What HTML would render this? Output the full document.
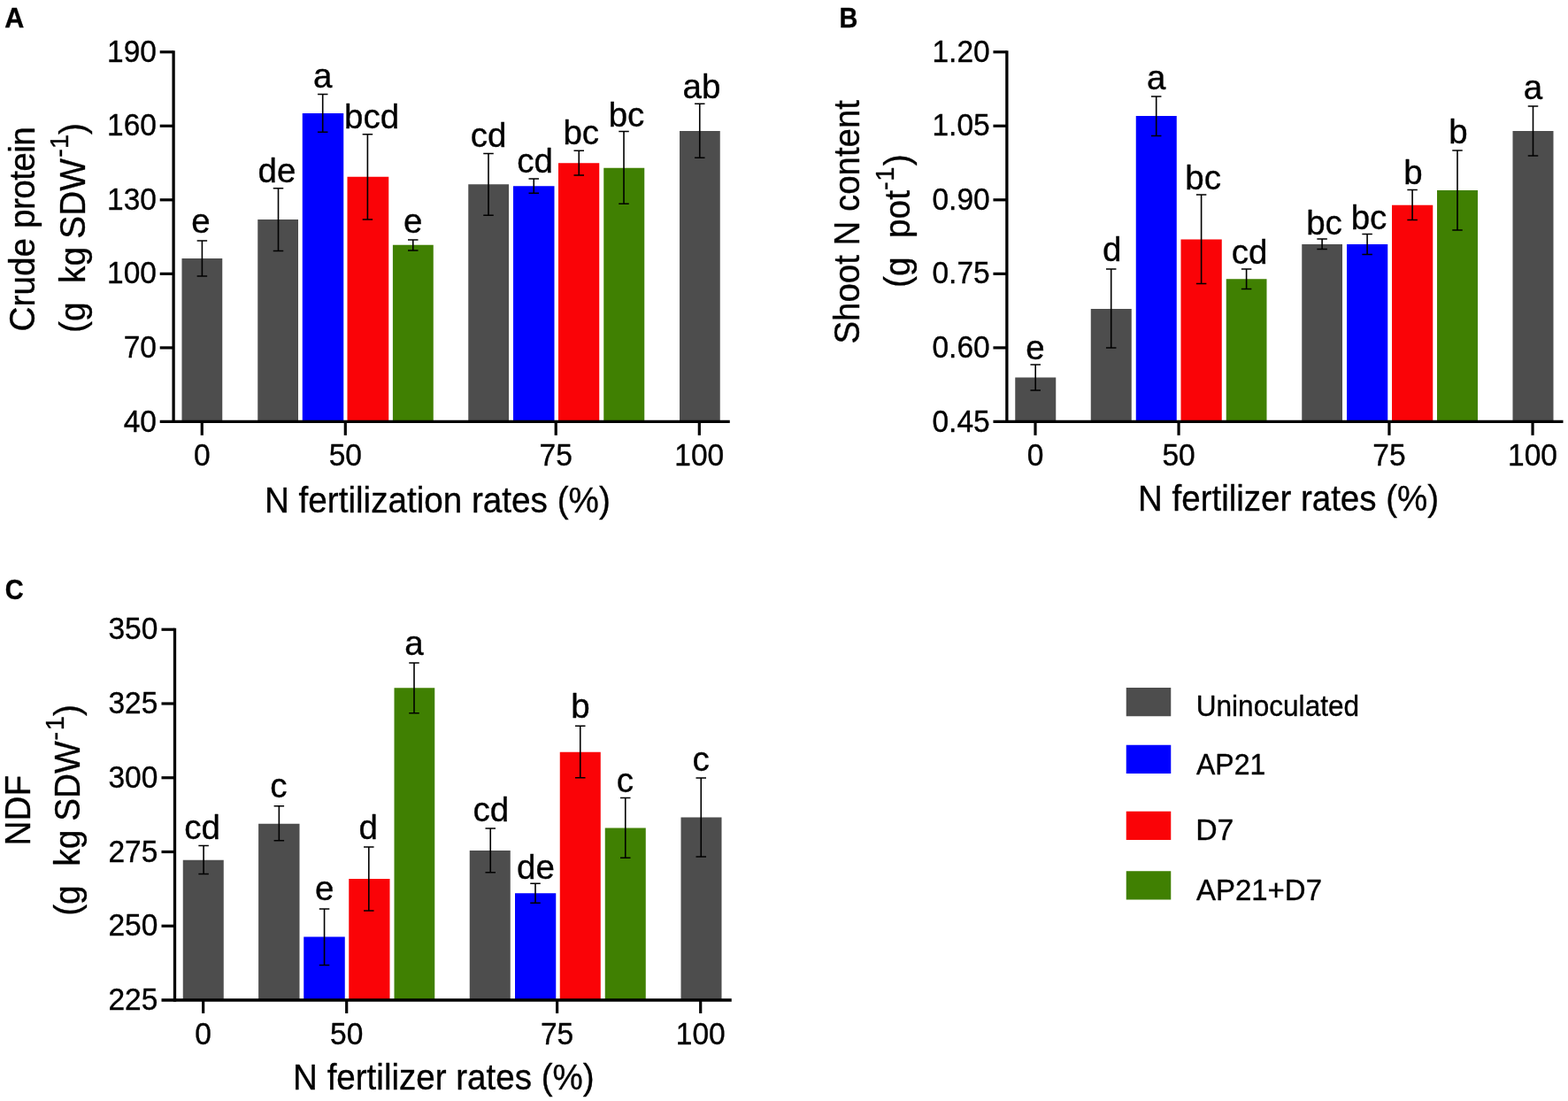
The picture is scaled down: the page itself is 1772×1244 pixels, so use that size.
<!DOCTYPE html>
<html lang="en">
<head>
<meta charset="utf-8">
<title>Figure: crude protein, shoot N content and NDF under N fertilizer rates</title>
<style>
html,body{margin:0;padding:0;background:#fff;}
body{width:1772px;height:1244px;overflow:hidden;}
svg{display:block;}
svg text{font-family:"Liberation Sans", Arial, Helvetica, sans-serif;fill:#000;font-kerning:none;stroke:#000;stroke-width:0.35px;stroke-linejoin:round;}
</style>
</head>
<body>
<svg width="1772" height="1244" viewBox="0 0 1772 1244">
<rect width="1772" height="1244" fill="#fff"/>
<g>
<rect x="205.50" y="292.00" width="45.75" height="184.45" fill="#4d4d4d"/>
<rect x="291.25" y="248.00" width="45.75" height="228.45" fill="#4d4d4d"/>
<rect x="341.75" y="128.00" width="46.50" height="348.45" fill="#0000ff"/>
<rect x="392.50" y="199.75" width="46.75" height="276.70" fill="#fa0307"/>
<rect x="443.90" y="276.75" width="45.85" height="199.70" fill="#408002"/>
<rect x="529.25" y="208.25" width="45.75" height="268.20" fill="#4d4d4d"/>
<rect x="580.00" y="210.25" width="46.50" height="266.20" fill="#0000ff"/>
<rect x="631.00" y="184.25" width="46.25" height="292.20" fill="#fa0307"/>
<rect x="682.25" y="189.75" width="46.00" height="286.70" fill="#408002"/>
<rect x="768.00" y="148.00" width="45.75" height="328.45" fill="#4d4d4d"/>
<path d="M228.40 272.00V312.00M222.65 272.00H234.15M222.65 312.00H234.15" stroke="#000" stroke-width="1.6" fill="none"/>
<path d="M314.50 212.75V283.50M308.75 212.75H320.25M308.75 283.50H320.25" stroke="#000" stroke-width="1.6" fill="none"/>
<path d="M364.70 106.50V149.25M358.95 106.50H370.45M358.95 149.25H370.45" stroke="#000" stroke-width="1.6" fill="none"/>
<path d="M415.40 151.75V248.00M409.65 151.75H421.15M409.65 248.00H421.15" stroke="#000" stroke-width="1.6" fill="none"/>
<path d="M466.75 271.00V283.00M461.00 271.00H472.50M461.00 283.00H472.50" stroke="#000" stroke-width="1.6" fill="none"/>
<path d="M552.00 173.50V243.25M546.25 173.50H557.75M546.25 243.25H557.75" stroke="#000" stroke-width="1.6" fill="none"/>
<path d="M603.25 202.00V218.25M597.50 202.00H609.00M597.50 218.25H609.00" stroke="#000" stroke-width="1.6" fill="none"/>
<path d="M654.25 170.25V198.00M648.50 170.25H660.00M648.50 198.00H660.00" stroke="#000" stroke-width="1.6" fill="none"/>
<path d="M705.00 148.50V230.25M699.25 148.50H710.75M699.25 230.25H710.75" stroke="#000" stroke-width="1.6" fill="none"/>
<path d="M790.75 117.25V178.25M785.00 117.25H796.50M785.00 178.25H796.50" stroke="#000" stroke-width="1.6" fill="none"/>
<path d="M196.10 57.15V478.10" stroke="#000" stroke-width="3.3" fill="none"/>
<path d="M180.70 476.45H824.75" stroke="#000" stroke-width="3.3" fill="none"/>
<path d="M180.70 58.75H196.10" stroke="#000" stroke-width="3.2" fill="none"/>
<text transform="translate(176.90 69.85) scale(1 1.06)" font-size="33.5" text-anchor="end">190</text>
<path d="M180.70 142.29H196.10" stroke="#000" stroke-width="3.2" fill="none"/>
<text transform="translate(176.90 153.39) scale(1 1.06)" font-size="33.5" text-anchor="end">160</text>
<path d="M180.70 225.83H196.10" stroke="#000" stroke-width="3.2" fill="none"/>
<text transform="translate(176.90 236.93) scale(1 1.06)" font-size="33.5" text-anchor="end">130</text>
<path d="M180.70 309.37H196.10" stroke="#000" stroke-width="3.2" fill="none"/>
<text transform="translate(176.90 320.47) scale(1 1.06)" font-size="33.5" text-anchor="end">100</text>
<path d="M180.70 392.91H196.10" stroke="#000" stroke-width="3.2" fill="none"/>
<text transform="translate(176.90 404.01) scale(1 1.06)" font-size="33.5" text-anchor="end">70</text>
<text transform="translate(176.90 487.55) scale(1 1.06)" font-size="33.5" text-anchor="end">40</text>
<path d="M228.25 476.45V491.85" stroke="#000" stroke-width="3.2" fill="none"/>
<text transform="translate(228.25 526.05) scale(1 1.06)" font-size="33.5" text-anchor="middle">0</text>
<path d="M390.30 476.45V491.85" stroke="#000" stroke-width="3.2" fill="none"/>
<text transform="translate(390.30 526.05) scale(1 1.06)" font-size="33.5" text-anchor="middle">50</text>
<path d="M628.20 476.45V491.85" stroke="#000" stroke-width="3.2" fill="none"/>
<text transform="translate(628.20 526.05) scale(1 1.06)" font-size="33.5" text-anchor="middle">75</text>
<path d="M790.30 476.45V491.85" stroke="#000" stroke-width="3.2" fill="none"/>
<text transform="translate(790.30 526.05) scale(1 1.06)" font-size="33.5" text-anchor="middle">100</text>
<text transform="translate(227.00 263.00)" font-size="38.5" text-anchor="middle">e</text>
<text transform="translate(313.00 205.50)" font-size="38.5" text-anchor="middle">de</text>
<text transform="translate(364.75 99.20)" font-size="38.5" text-anchor="middle">a</text>
<text transform="translate(420.00 144.50)" font-size="38.5" text-anchor="middle">bcd</text>
<text transform="translate(466.75 263.00)" font-size="38.5" text-anchor="middle">e</text>
<text transform="translate(552.00 165.75)" font-size="38.5" text-anchor="middle">cd</text>
<text transform="translate(604.50 194.50)" font-size="38.5" text-anchor="middle">cd</text>
<text transform="translate(656.75 162.75)" font-size="38.5" text-anchor="middle">bc</text>
<text transform="translate(708.00 143.25)" font-size="38.5" text-anchor="middle">bc</text>
<text transform="translate(793.00 110.60)" font-size="38.5" text-anchor="middle">ab</text>
<text transform="translate(298.90 578.90) scale(1 1.035)" font-size="38.65">N fertilization rates (%)</text>
<text transform="translate(39.20 374.50) rotate(-90) scale(1 1.035)" font-size="38.8" xml:space="preserve" style="white-space:pre">Crude <tspan letter-spacing="-0.6">protein</tspan></text>
<text transform="translate(95.90 376.00) rotate(-90) scale(1 1.035)" font-size="38.8" xml:space="preserve" style="white-space:pre">(g  kg <tspan dx="-1.4">SDW</tspan><tspan font-size="29" dy="-17.8" dx="1.4">-</tspan><tspan font-size="29" dx="0">1</tspan><tspan dy="17.8" dx="0">)</tspan></text>
</g>
<g>
<rect x="1147.25" y="426.50" width="46.00" height="49.95" fill="#4d4d4d"/>
<rect x="1232.75" y="349.00" width="46.00" height="127.45" fill="#4d4d4d"/>
<rect x="1283.75" y="131.00" width="46.00" height="345.45" fill="#0000ff"/>
<rect x="1334.50" y="270.50" width="46.25" height="205.95" fill="#fa0307"/>
<rect x="1385.75" y="315.25" width="45.75" height="161.20" fill="#408002"/>
<rect x="1471.25" y="276.00" width="45.75" height="200.45" fill="#4d4d4d"/>
<rect x="1522.00" y="276.00" width="46.25" height="200.45" fill="#0000ff"/>
<rect x="1573.00" y="231.75" width="46.25" height="244.70" fill="#fa0307"/>
<rect x="1624.00" y="215.00" width="46.00" height="261.45" fill="#408002"/>
<rect x="1709.50" y="148.00" width="46.00" height="328.45" fill="#4d4d4d"/>
<path d="M1170.20 412.00V441.00M1164.45 412.00H1175.95M1164.45 441.00H1175.95" stroke="#000" stroke-width="1.6" fill="none"/>
<path d="M1255.70 304.00V393.00M1249.95 304.00H1261.45M1249.95 393.00H1261.45" stroke="#000" stroke-width="1.6" fill="none"/>
<path d="M1306.70 109.00V153.50M1300.95 109.00H1312.45M1300.95 153.50H1312.45" stroke="#000" stroke-width="1.6" fill="none"/>
<path d="M1357.60 220.00V320.50M1351.85 220.00H1363.35M1351.85 320.50H1363.35" stroke="#000" stroke-width="1.6" fill="none"/>
<path d="M1408.60 304.00V326.50M1402.85 304.00H1414.35M1402.85 326.50H1414.35" stroke="#000" stroke-width="1.6" fill="none"/>
<path d="M1494.10 270.00V281.50M1488.35 270.00H1499.85M1488.35 281.50H1499.85" stroke="#000" stroke-width="1.6" fill="none"/>
<path d="M1545.10 264.50V287.50M1539.35 264.50H1550.85M1539.35 287.50H1550.85" stroke="#000" stroke-width="1.6" fill="none"/>
<path d="M1596.10 214.50V248.50M1590.35 214.50H1601.85M1590.35 248.50H1601.85" stroke="#000" stroke-width="1.6" fill="none"/>
<path d="M1647.00 170.00V260.00M1641.25 170.00H1652.75M1641.25 260.00H1652.75" stroke="#000" stroke-width="1.6" fill="none"/>
<path d="M1732.50 120.00V176.00M1726.75 120.00H1738.25M1726.75 176.00H1738.25" stroke="#000" stroke-width="1.6" fill="none"/>
<path d="M1137.85 57.15V478.10" stroke="#000" stroke-width="3.3" fill="none"/>
<path d="M1122.45 476.45H1766.50" stroke="#000" stroke-width="3.3" fill="none"/>
<path d="M1122.45 58.75H1137.85" stroke="#000" stroke-width="3.2" fill="none"/>
<text transform="translate(1118.65 69.85) scale(1 1.06)" font-size="33.5" text-anchor="end">1.20</text>
<path d="M1122.45 142.29H1137.85" stroke="#000" stroke-width="3.2" fill="none"/>
<text transform="translate(1118.65 153.39) scale(1 1.06)" font-size="33.5" text-anchor="end">1.05</text>
<path d="M1122.45 225.83H1137.85" stroke="#000" stroke-width="3.2" fill="none"/>
<text transform="translate(1118.65 236.93) scale(1 1.06)" font-size="33.5" text-anchor="end">0.90</text>
<path d="M1122.45 309.37H1137.85" stroke="#000" stroke-width="3.2" fill="none"/>
<text transform="translate(1118.65 320.47) scale(1 1.06)" font-size="33.5" text-anchor="end">0.75</text>
<path d="M1122.45 392.91H1137.85" stroke="#000" stroke-width="3.2" fill="none"/>
<text transform="translate(1118.65 404.01) scale(1 1.06)" font-size="33.5" text-anchor="end">0.60</text>
<text transform="translate(1118.65 487.55) scale(1 1.06)" font-size="33.5" text-anchor="end">0.45</text>
<path d="M1170.00 476.45V491.85" stroke="#000" stroke-width="3.2" fill="none"/>
<text transform="translate(1170.00 526.05) scale(1 1.06)" font-size="33.5" text-anchor="middle">0</text>
<path d="M1332.05 476.45V491.85" stroke="#000" stroke-width="3.2" fill="none"/>
<text transform="translate(1332.05 526.05) scale(1 1.06)" font-size="33.5" text-anchor="middle">50</text>
<path d="M1569.95 476.45V491.85" stroke="#000" stroke-width="3.2" fill="none"/>
<text transform="translate(1569.95 526.05) scale(1 1.06)" font-size="33.5" text-anchor="middle">75</text>
<path d="M1732.05 476.45V491.85" stroke="#000" stroke-width="3.2" fill="none"/>
<text transform="translate(1732.05 526.05) scale(1 1.06)" font-size="33.5" text-anchor="middle">100</text>
<text transform="translate(1170.00 405.70)" font-size="38.5" text-anchor="middle">e</text>
<text transform="translate(1256.70 295.00)" font-size="38.5" text-anchor="middle">d</text>
<text transform="translate(1306.70 101.00)" font-size="38.5" text-anchor="middle">a</text>
<text transform="translate(1359.60 214.30)" font-size="38.5" text-anchor="middle">bc</text>
<text transform="translate(1412.20 298.20)" font-size="38.5" text-anchor="middle">cd</text>
<text transform="translate(1496.50 264.50)" font-size="38.5" text-anchor="middle">bc</text>
<text transform="translate(1547.00 258.70)" font-size="38.5" text-anchor="middle">bc</text>
<text transform="translate(1597.00 207.50)" font-size="38.5" text-anchor="middle">b</text>
<text transform="translate(1648.00 162.00)" font-size="38.5" text-anchor="middle">b</text>
<text transform="translate(1732.50 112.00)" font-size="38.5" text-anchor="middle">a</text>
<text transform="translate(1286.10 576.80) scale(1 1.035)" font-size="38.5">N fertilizer rates (%)</text>
<text transform="translate(971.00 388.60) rotate(-90) scale(1 1.035)" font-size="38.45" xml:space="preserve" style="white-space:pre">Shoot N content</text>
<text transform="translate(1028.40 325.00) rotate(-90) scale(1 1.035)" font-size="38.8" xml:space="preserve" style="white-space:pre">(g  pot<tspan font-size="29" dy="-17.8" dx="0">-</tspan><tspan font-size="29" dx="0.6">1</tspan><tspan dy="17.8" dx="1.5">)</tspan></text>
</g>
<g>
<rect x="206.75" y="971.75" width="46.00" height="158.25" fill="#4d4d4d"/>
<rect x="292.10" y="930.75" width="46.40" height="199.25" fill="#4d4d4d"/>
<rect x="343.25" y="1058.50" width="46.50" height="71.50" fill="#0000ff"/>
<rect x="394.25" y="993.00" width="46.25" height="137.00" fill="#fa0307"/>
<rect x="445.50" y="777.25" width="45.75" height="352.75" fill="#408002"/>
<rect x="530.75" y="961.00" width="46.00" height="169.00" fill="#4d4d4d"/>
<rect x="582.00" y="1009.25" width="46.25" height="120.75" fill="#0000ff"/>
<rect x="632.75" y="849.75" width="46.00" height="280.25" fill="#fa0307"/>
<rect x="683.75" y="935.50" width="46.00" height="194.50" fill="#408002"/>
<rect x="769.50" y="923.50" width="46.00" height="206.50" fill="#4d4d4d"/>
<path d="M230.10 955.50V987.50M224.35 955.50H235.85M224.35 987.50H235.85" stroke="#000" stroke-width="1.6" fill="none"/>
<path d="M315.35 910.75V949.75M309.60 910.75H321.10M309.60 949.75H321.10" stroke="#000" stroke-width="1.6" fill="none"/>
<path d="M366.55 1027.00V1090.50M360.80 1027.00H372.30M360.80 1090.50H372.30" stroke="#000" stroke-width="1.6" fill="none"/>
<path d="M416.80 957.00V1029.00M411.05 957.00H422.55M411.05 1029.00H422.55" stroke="#000" stroke-width="1.6" fill="none"/>
<path d="M468.00 749.00V805.75M462.25 749.00H473.75M462.25 805.75H473.75" stroke="#000" stroke-width="1.6" fill="none"/>
<path d="M554.25 936.00V985.75M548.50 936.00H560.00M548.50 985.75H560.00" stroke="#000" stroke-width="1.6" fill="none"/>
<path d="M605.00 998.25V1020.25M599.25 998.25H610.75M599.25 1020.25H610.75" stroke="#000" stroke-width="1.6" fill="none"/>
<path d="M655.75 820.25V878.75M650.00 820.25H661.50M650.00 878.75H661.50" stroke="#000" stroke-width="1.6" fill="none"/>
<path d="M706.75 901.50V969.25M701.00 901.50H712.50M701.00 969.25H712.50" stroke="#000" stroke-width="1.6" fill="none"/>
<path d="M792.25 879.00V968.00M786.50 879.00H798.00M786.50 968.00H798.00" stroke="#000" stroke-width="1.6" fill="none"/>
<path d="M197.50 709.65V1131.65" stroke="#000" stroke-width="3.3" fill="none"/>
<path d="M182.50 1130.00H826.75" stroke="#000" stroke-width="3.3" fill="none"/>
<path d="M182.50 711.25H197.50" stroke="#000" stroke-width="3.2" fill="none"/>
<text transform="translate(178.30 722.35) scale(1 1.06)" font-size="33.5" text-anchor="end">350</text>
<path d="M182.50 795.00H197.50" stroke="#000" stroke-width="3.2" fill="none"/>
<text transform="translate(178.30 806.10) scale(1 1.06)" font-size="33.5" text-anchor="end">325</text>
<path d="M182.50 878.75H197.50" stroke="#000" stroke-width="3.2" fill="none"/>
<text transform="translate(178.30 889.85) scale(1 1.06)" font-size="33.5" text-anchor="end">300</text>
<path d="M182.50 962.50H197.50" stroke="#000" stroke-width="3.2" fill="none"/>
<text transform="translate(178.30 973.60) scale(1 1.06)" font-size="33.5" text-anchor="end">275</text>
<path d="M182.50 1046.25H197.50" stroke="#000" stroke-width="3.2" fill="none"/>
<text transform="translate(178.30 1057.35) scale(1 1.06)" font-size="33.5" text-anchor="end">250</text>
<text transform="translate(178.30 1141.10) scale(1 1.06)" font-size="33.5" text-anchor="end">225</text>
<path d="M229.65 1130.00V1144.90" stroke="#000" stroke-width="3.2" fill="none"/>
<text transform="translate(229.65 1179.60) scale(1 1.06)" font-size="33.5" text-anchor="middle">0</text>
<path d="M391.70 1130.00V1144.90" stroke="#000" stroke-width="3.2" fill="none"/>
<text transform="translate(391.70 1179.60) scale(1 1.06)" font-size="33.5" text-anchor="middle">50</text>
<path d="M629.60 1130.00V1144.90" stroke="#000" stroke-width="3.2" fill="none"/>
<text transform="translate(629.60 1179.60) scale(1 1.06)" font-size="33.5" text-anchor="middle">75</text>
<path d="M791.70 1130.00V1144.90" stroke="#000" stroke-width="3.2" fill="none"/>
<text transform="translate(791.70 1179.60) scale(1 1.06)" font-size="33.5" text-anchor="middle">100</text>
<text transform="translate(228.60 948.00)" font-size="38.5" text-anchor="middle">cd</text>
<text transform="translate(314.80 900.90)" font-size="38.5" text-anchor="middle">c</text>
<text transform="translate(366.75 1017.40)" font-size="38.5" text-anchor="middle">e</text>
<text transform="translate(416.30 948.30)" font-size="38.5" text-anchor="middle">d</text>
<text transform="translate(468.00 739.50)" font-size="38.5" text-anchor="middle">a</text>
<text transform="translate(554.75 928.25)" font-size="38.5" text-anchor="middle">cd</text>
<text transform="translate(605.50 992.50)" font-size="38.5" text-anchor="middle">de</text>
<text transform="translate(656.00 810.75)" font-size="38.5" text-anchor="middle">b</text>
<text transform="translate(706.25 895.00)" font-size="38.5" text-anchor="middle">c</text>
<text transform="translate(792.00 870.75)" font-size="38.5" text-anchor="middle">c</text>
<text transform="translate(331.10 1230.65) scale(1 1.035)" font-size="38.55">N fertilizer rates (%)</text>
<text transform="translate(34.00 955.50) rotate(-90) scale(1 1.035)" font-size="38.8" xml:space="preserve" style="white-space:pre">NDF</text>
<text transform="translate(90.20 1034.80) rotate(-90) scale(1 1.035)" font-size="38.8" xml:space="preserve" style="white-space:pre">(g  kg <tspan dx="-0.8">SDW</tspan><tspan font-size="29" dy="-17.8" dx="0.8">-</tspan><tspan font-size="29" dx="1.5">1</tspan><tspan dy="17.8" dx="0.3">)</tspan></text>
</g>
<text transform="translate(5.30 30.80) scale(1.0 1.01)" font-size="30.5" font-weight="bold" stroke="#000" stroke-width="0.3">A</text>
<text transform="translate(948.40 30.80) scale(0.947 1.01)" font-size="30.5" font-weight="bold" stroke="#000" stroke-width="0.3">B</text>
<text transform="translate(5.80 676.80) scale(0.95 1.01)" font-size="30.5" font-weight="bold" stroke="#000" stroke-width="0.3">C</text>
<rect x="1272.75" y="777" width="50.5" height="32.25" fill="#4d4d4d"/>
<text transform="translate(1351.70 809.30) scale(0.988 1.04)" font-size="32">Uninoculated</text>
<rect x="1272.75" y="841.75" width="50.5" height="32.25" fill="#0000ff"/>
<text transform="translate(1352.00 874.50) scale(1.0 1.06)" font-size="32">AP21</text>
<rect x="1272.75" y="916.75" width="50.5" height="32.25" fill="#fa0307"/>
<text transform="translate(1351.20 949.00) scale(1.055 1.06)" font-size="32">D7</text>
<rect x="1272.75" y="984.25" width="50.5" height="32.25" fill="#408002"/>
<text transform="translate(1352.00 1016.50) scale(1.03 1.06)" font-size="32">AP21+D7</text>
</svg>
</body>
</html>
